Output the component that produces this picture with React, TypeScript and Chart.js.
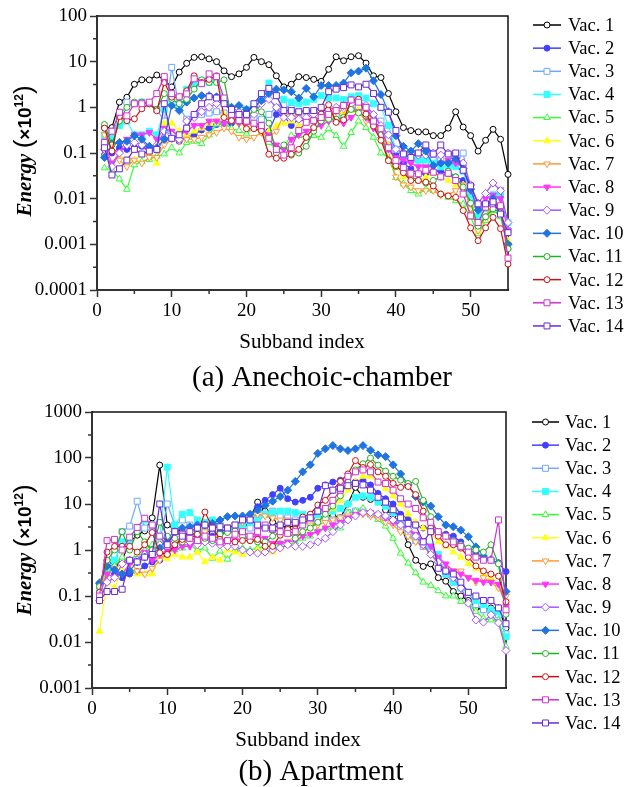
import React, { useEffect, useRef } from 'react';
import { Chart, registerables } from 'chart.js';

Chart.register(...registerables);

// ---------- categories ----------
const subbandIndex = [
  1, 2, 3, 4, 5, 6, 7, 8, 9, 10, 11, 12, 13, 14, 15, 16, 17, 18, 19, 20,
  21, 22, 23, 24, 25, 26, 27, 28, 29, 30, 31, 32, 33, 34, 35, 36, 37, 38, 39, 40,
  41, 42, 43, 44, 45, 46, 47, 48, 49, 50, 51, 52, 53, 54, 55,
];

const vacLabels = ['Vac. 1', 'Vac. 2', 'Vac. 3', 'Vac. 4', 'Vac. 5', 'Vac. 6', 'Vac. 7',
  'Vac. 8', 'Vac. 9', 'Vac. 10', 'Vac. 11', 'Vac. 12', 'Vac. 13', 'Vac. 14'];

// ---------- tick labels ----------
const xTicks = [0, 10, 20, 30, 40, 50];
const xTickLabels = ['0', '10', '20', '30', '40', '50'];
const xMinorTicks = [5, 15, 25, 35, 45];
const yTicksChamber = [0.0001, 0.001, 0.01, 0.1, 1, 10, 100];
const yTickLabelsChamber = ['0.0001', '0.001', '0.01', '0.1', '1', '10', '100'];
const yTicksApartment = [0.001, 0.01, 0.1, 1, 10, 100, 1000];
const yTickLabelsApartment = ['0.001', '0.01', '0.1', '1', '10', '100', '1000'];

// ---------- (a) Anechoic-chamber ----------
const chamberV1 = [0.36,0.36,1.3,1.66,3.2,4.0,4.0,5.1,3.9,2.8,
  5.9,9.2,12.4,12.8,11.5,10,6.3,4.7,5.4,7.5,
  12.4,10,8.6,4.9,2.8,3.2,4.7,4.5,4.1,3.7,
  6.8,12.8,10.5,12.8,13.5,9.3,4.9,4.5,2.0,0.8,
  0.36,0.31,0.29,0.29,0.24,0.24,0.35,0.8,0.37,0.24,
  0.11,0.19,0.33,0.2,0.034];
const chamberV2 = [0.09,0.1,0.13,0.12,0.13,0.14,0.11,0.12,0.2,0.23,
  0.18,0.22,0.25,0.32,0.35,0.42,0.45,0.45,0.5,0.5,
  0.45,0.32,0.3,0.7,0.65,0.4,0.55,0.5,0.55,0.6,
  0.65,0.7,0.8,0.9,1.0,0.8,0.5,0.35,0.2,0.1,
  0.06,0.045,0.035,0.035,0.04,0.04,0.035,0.03,0.025,0.008,
  0.0025,0.004,0.008,0.005,0.001];
const chamberV3 = [0.24,0.3,0.55,1.3,1.2,1.3,1.2,0.9,0.5,7.5,
  1.0,0.55,0.65,0.7,0.75,0.8,0.75,0.55,0.5,0.55,
  0.6,0.55,0.7,1.0,1.1,0.95,0.8,0.8,0.8,0.75,
  0.7,0.7,0.75,0.9,1.0,0.9,0.65,0.5,0.2,0.12,
  0.08,0.07,0.07,0.06,0.07,0.07,0.06,0.06,0.1,0.015,
  0.004,0.007,0.012,0.015,0.002];
const chamberV4 = [0.25,0.22,0.4,0.5,0.25,0.25,0.3,0.25,0.9,1.5,
  1.2,2.5,3.0,3.9,3.5,3.9,1.3,0.8,0.7,0.9,
  1.2,1.7,3.4,1.8,1.5,1.3,1.2,1.3,1.5,1.8,
  1.6,1.6,1.5,1.7,1.8,1.6,1.2,1.0,0.4,0.12,
  0.09,0.08,0.07,0.07,0.06,0.05,0.05,0.05,0.04,0.012,
  0.004,0.006,0.012,0.012,0.003];
const chamberV5 = [0.047,0.042,0.027,0.016,0.055,0.065,0.072,0.085,0.095,0.13,
  0.1,0.17,0.18,0.16,0.25,0.43,0.47,0.34,0.31,0.26,
  0.36,0.28,0.17,0.12,0.14,0.24,0.24,0.22,0.24,0.22,
  0.34,0.24,0.14,0.28,0.5,0.36,0.22,0.1,0.08,0.029,
  0.021,0.015,0.0126,0.016,0.015,0.0126,0.0107,0.009,0.0076,0.0039,
  0.0017,0.0033,0.0055,0.004,0.00085];
const chamberV6 = [0.09,0.06,0.08,0.07,0.07,0.09,0.1,0.06,0.45,0.45,
  0.3,0.25,0.3,0.35,0.45,0.5,0.7,0.55,0.45,0.4,
  0.35,0.3,0.3,0.4,0.45,0.5,0.4,0.45,0.5,0.7,
  0.9,0.8,0.75,0.85,0.9,0.75,0.5,0.3,0.15,0.05,
  0.03,0.025,0.025,0.03,0.035,0.03,0.025,0.02,0.02,0.006,
  0.002,0.004,0.008,0.007,0.0012];
const chamberV7 = [0.25,0.15,0.07,0.05,0.07,0.06,0.08,0.08,0.15,0.2,
  0.18,0.2,0.2,0.22,0.25,0.28,0.35,0.3,0.22,0.2,
  0.22,0.28,0.22,0.3,0.7,0.7,0.6,0.55,0.5,0.45,
  0.55,0.8,0.9,1.0,0.8,0.5,0.45,0.3,0.1,0.03,
  0.02,0.018,0.015,0.015,0.015,0.012,0.012,0.015,0.02,0.006,
  0.002,0.004,0.008,0.006,0.001];
const chamberV8 = [0.15,0.06,0.1,0.2,0.25,0.25,0.28,0.2,0.35,0.3,
  0.25,0.3,0.4,0.4,0.5,0.5,0.45,0.5,0.45,0.45,
  0.4,0.35,0.25,0.15,0.12,0.2,0.25,0.3,0.35,0.4,
  0.5,0.5,0.45,0.6,0.8,0.6,0.35,0.2,0.12,0.08,
  0.07,0.06,0.05,0.05,0.05,0.06,0.07,0.06,0.05,0.015,
  0.006,0.01,0.012,0.01,0.002];
const chamberV9 = [0.12,0.05,0.1,0.15,0.17,0.15,0.12,0.15,0.3,0.25,
  0.2,0.5,0.6,0.8,1.0,1.2,1.3,1.0,0.8,0.6,
  0.7,1.2,1.5,1.0,0.6,0.6,0.55,0.6,0.7,0.8,
  0.9,1.0,1.1,1.2,1.4,1.1,0.7,0.4,0.25,0.12,
  0.1,0.1,0.09,0.09,0.1,0.09,0.1,0.08,0.06,0.02,
  0.008,0.013,0.022,0.015,0.003];
const chamberV10 = [0.08,0.16,0.17,0.18,0.24,0.2,0.14,0.13,0.2,1.1,
  0.85,1.3,1.6,1.8,1.8,1.7,1.3,1.0,1.1,0.9,
  1.0,1.4,2.0,2.5,2.4,2.2,1.6,2.6,1.7,3.0,
  3.0,3.0,3.4,5.7,6.2,7.2,3.8,1.9,0.8,0.24,
  0.14,0.11,0.16,0.11,0.053,0.06,0.06,0.075,0.045,0.016,
  0.0056,0.007,0.01,0.005,0.001];
const chamberV11 = [0.42,0.15,0.5,1.0,1.3,1.3,1.2,0.9,2.0,1.5,
  1.2,1.5,2.5,4.0,3.5,3.5,4.0,0.6,0.5,0.55,
  0.9,0.8,0.45,0.1,0.15,0.09,0.1,0.14,0.3,0.5,
  0.55,0.55,0.6,0.9,0.75,0.65,0.4,0.25,0.07,0.05,
  0.04,0.03,0.025,0.022,0.025,0.03,0.04,0.03,0.018,0.008,
  0.0025,0.004,0.006,0.005,0.0008];
const chamberV12 = [0.35,0.11,0.63,0.51,0.56,0.93,1.2,0.84,3.5,1.67,
  1.67,2.3,4.9,3.5,4.1,4.9,0.6,0.51,0.56,0.34,
  0.34,0.31,0.094,0.077,0.077,0.094,0.12,0.22,0.36,0.71,
  1.14,0.47,0.53,1.45,1.5,0.71,0.39,0.19,0.068,0.053,
  0.037,0.025,0.025,0.023,0.019,0.0126,0.0115,0.0107,0.0055,0.0023,
  0.0012,0.0023,0.0039,0.0022,0.00037];
const chamberV13 = [0.17,0.3,0.78,0.65,1.2,1.2,1.3,2.0,4.7,2.0,
  1.7,1.97,4.2,3.3,5.4,4.7,1.6,0.7,0.51,0.5,
  0.45,0.4,0.21,0.12,0.09,0.13,0.31,0.47,0.51,0.6,
  0.7,0.85,1.1,1.45,1.3,1.0,0.5,0.34,0.13,0.068,
  0.048,0.036,0.035,0.042,0.038,0.03,0.036,0.025,0.0126,0.0042,
  0.003,0.0065,0.0077,0.007,0.0005];
const chamberV14 = [0.13,0.033,0.045,0.07,0.12,0.095,0.11,0.12,1.2,0.21,
  0.25,0.35,0.7,1.2,1.7,1.6,1.2,0.9,0.7,0.7,
  1.2,2.0,2.6,1.8,0.85,0.85,0.8,0.85,0.85,1.0,
  2.2,2.5,2.7,3.1,2.8,3.2,2.0,1.0,0.78,0.31,
  0.095,0.08,0.1,0.15,0.095,0.15,0.095,0.1,0.042,0.019,
  0.0077,0.0077,0.0085,0.0046,0.0018];

// ---------- (b) Apartment ----------
const apartmentV1 = [0.17,0.6,0.45,0.6,1.5,2.1,2.6,5,70,3.5,
  2.8,2.5,2.0,2.5,2.8,2.3,2.2,2.5,2.5,2.4,
  5,11,7,4,3.5,3,3.5,4,4.5,5,
  5.5,5.5,5,10,23,14,12.6,12,7.4,5.8,
  3.5,1.3,0.6,0.44,0.5,0.25,0.21,0.125,0.1,0.08,
  0.055,0.05,0.055,0.055,0.02];
const apartmentV2 = [0.19,0.5,0.3,0.25,0.3,0.34,0.45,0.55,0.6,0.8,
  1.2,1.95,1.5,2.0,2.5,2.0,2.5,2.8,3.0,3.5,
  5,8.7,12,16,22,13,11,12,14,22,
  26,30,33,30,30,33,26,17,13,10,
  6,4.7,3.5,3.0,3,2.5,2.2,2.0,1.5,1.0,
  0.85,0.7,0.6,0.52,0.34];
const apartmentV3 = [0.15,0.5,0.8,2.5,3.3,11.5,3.0,2.5,1.5,10,
  3.5,4.5,3.5,3.0,2.5,3,3.5,3,3,2.8,
  3,4,6,7,5.5,5,4.5,4.5,4,4.5,
  5,4.5,5,6.5,7,7,6,5.5,5,4,
  3,2.2,1.6,1.2,1.0,0.6,0.3,0.2,0.15,0.12,
  0.065,0.05,0.045,0.04,0.015];
const apartmentV4 = [0.12,0.35,0.6,1.5,1.6,3.0,4.5,3.5,2.0,63,
  3.5,6.0,6.5,4.5,4.0,4.5,3.5,3.0,3.5,3.5,
  4.0,5.0,6.0,6.5,7.0,7.0,6.5,6.0,5.5,6.0,
  6.5,7.0,8,10,14,15,14,11,9,6.5,
  4.5,3,2,1.5,1.2,0.8,0.3,0.2,0.15,0.12,
  0.08,0.065,0.05,0.045,0.013];
const apartmentV5 = [0.2,0.3,0.45,0.7,0.6,0.8,1.0,1.3,1.5,1.0,
  1.0,1.1,1.3,1.0,1.1,0.66,0.95,0.63,1.0,1.1,
  1.0,1.1,1.2,1.2,1.4,1.3,1.5,1.8,2.0,2.7,
  3.0,3.0,3.0,6.3,7,8,6.3,4.6,3.3,1.8,
  0.85,0.52,0.32,0.2,0.17,0.13,0.1,0.1,0.076,0.07,
  0.046,0.033,0.03,0.03,0.008];
const apartmentV6 = [0.017,0.2,0.15,0.35,0.4,0.3,0.3,0.3,0.7,0.65,
  0.8,0.7,0.7,0.9,0.55,0.7,0.6,1.0,0.9,0.8,
  0.9,1.0,1.0,0.9,1.1,1.5,2,2.5,3,4,
  6,8,12,20,30,40,40,30,22,15,
  10,6,4,3,2.3,1.5,1.2,0.9,0.7,0.5,
  0.4,0.3,0.25,0.15,0.07];
const apartmentV7 = [0.15,0.3,0.4,0.5,0.6,0.35,0.3,0.4,0.6,1.0,
  1.3,1.5,1.5,2.0,2.5,3,3.5,3.2,3.5,4,
  5,6,5.5,5,4.5,4.5,4,4,3.5,3.5,
  4,4.5,5,5.5,5.5,6,5.5,5,4,3.5,
  2.5,2,1.5,1.2,0.8,0.5,0.4,0.35,0.35,0.25,
  0.2,0.25,0.2,0.15,0.1];
const apartmentV8 = [0.1,0.3,0.25,0.3,0.5,0.6,0.9,0.6,0.8,1.0,
  1.0,1.2,1.2,1.5,1.6,1.5,1.3,1.5,1.6,1.8,
  2.0,1.9,1.8,1.4,1.4,1.5,1.6,2.0,2.2,2.5,
  3,3.5,4,5,6,6.5,6.5,6,5,4,
  3.5,3,2.2,1.6,1.2,0.7,0.5,0.35,0.3,0.25,
  0.22,0.2,0.2,0.18,0.06];
const apartmentV9 = [0.08,0.2,0.25,0.5,0.6,0.6,0.8,1.0,1.3,1.5,
  1.6,1.7,1.5,1.3,1.5,1.4,1.3,1.2,1.2,1.0,
  0.9,0.85,0.9,1.0,1.1,1.3,1.2,1.2,1.3,1.5,
  1.8,2.5,3.5,4.5,5.5,6.5,6.5,6,5.5,4.5,
  3.5,2.8,2,1.3,0.8,0.55,0.35,0.25,0.15,0.07,
  0.03,0.027,0.039,0.026,0.0065];
const apartmentV10 = [0.19,0.45,0.37,0.3,0.35,0.55,0.7,0.8,1.1,1.8,
  2.5,3,3.2,3.5,3.5,3.8,4.5,5.3,5.5,5.5,
  6,7.4,9.3,11.5,14.5,20,31,50,71,126,
  158,186,158,145,158,186,148,117,107,71,
  45,26,14.5,11,9,5.3,3.5,3.2,2.7,1.95,
  1.17,0.74,0.62,0.52,0.126];
const apartmentV11 = [0.16,0.6,1.0,2.5,1.0,2.5,1.5,1.0,4.0,2.0,
  1.8,1.5,2.0,2.5,1.8,1.6,2.2,2.4,2.6,2.0,
  1.6,1.5,1.5,2.0,2.5,2.4,1.8,2.5,3,4,
  6,9,15,30,55,75,100,70,52,40,
  33,28,31,12,5.3,2.1,2.0,1.6,1.3,1.1,
  1.0,0.9,1.3,0.5,0.04];
const apartmentV12 = [0.12,0.9,1.2,1.2,1.2,0.9,1.3,2.4,0.87,0.8,
  1.3,1.7,1.8,2.2,6.7,3.1,1.7,1.6,1.5,1.6,
  1.6,1.7,1.2,1.2,2.1,2.8,2.8,5.2,6,9.5,
  12,20,31,45,88,62,72,50,40,28,
  23,24,16,7,3,2,1.3,1.3,1.1,0.7,
  0.45,0.35,0.3,0.27,0.075];
const apartmentV13 = [0.1,1.6,1.7,1.0,1.9,3.1,4.9,3.5,2.0,1.2,
  2.5,2.2,1.8,1.6,2.0,1.8,1.5,1.6,2.2,2.5,
  2.0,2.5,3.5,2.8,2.5,2.3,2.5,3.5,5,7,
  8,12,20,40,50,55,50,30,28,20,
  13,10,8,5,4,2.5,2.0,1.5,1.2,0.9,
  0.7,0.6,0.6,4.5,0.05];
const apartmentV14 = [0.08,0.125,0.125,0.14,0.6,0.55,0.7,0.8,10,1.3,
  2.5,2.0,2.5,3.0,3.5,3,3.2,3.0,3.5,4.5,
  4.5,3.5,3,3,3.5,4,4,4.5,5,7,
  25,20,22,25,28,26,20,14,11,7.5,
  5,3.8,3.5,1.5,2.5,0.4,0.35,0.3,0.2,0.12,
  0.1,0.08,0.08,0.055,0.025];

const chamberSeries = [chamberV1, chamberV2, chamberV3, chamberV4, chamberV5, chamberV6, chamberV7,
  chamberV8, chamberV9, chamberV10, chamberV11, chamberV12, chamberV13, chamberV14];
const apartmentSeries = [apartmentV1, apartmentV2, apartmentV3, apartmentV4, apartmentV5, apartmentV6,
  apartmentV7, apartmentV8, apartmentV9, apartmentV10, apartmentV11, apartmentV12, apartmentV13, apartmentV14];

// ---------- styles ----------
const vacColors = ['#000000', '#4040ff', '#6fa8ff', '#33ffff', '#33ff33', '#ffff1a', '#ff9933',
  '#ff33ff', '#a855ff', '#1f74e0', '#1fb31f', '#cc1111', '#cc33cc', '#6a2bd0'];
const vacMarkers = ['circle', 'circle', 'rect', 'rect', 'triangle', 'triangle', 'triangleDown',
  'triangleDown', 'rectRot', 'rectRot', 'circle', 'circle', 'rect', 'rect'];
const vacFilled = [false, true, false, true, false, true, false, true, false, true, false, false, false, false];
const markerRadius: Record<string, number> = { circle: 3, rect: 4.2, triangle: 3.8, triangleDown: 3.8, rectRot: 4 };

const SERIF = '"Liberation Serif", "Times New Roman", serif';
const SANS = '"Liberation Sans", Arial, sans-serif';
const W = 626;

type Spec = {
  series: number[][];
  height: number;
  area: { left: number; right: number; top: number; bottom: number };
  yMin: number; yMax: number; yTicks: number[]; yTickLabels: string[];
  legendTop: number; legendStep: number; legendX0: number; legendX1: number; legendTextX: number;
  xTitleX: number; xTitleY: number; caption: string; captionX: number; captionY: number;
  yTitleX: number; yTitleY: number;
};

const chamberSpec: Spec = {
  series: chamberSeries, height: 395,
  area: { left: 97, right: 508, top: 16, bottom: 290 },
  yMin: 0.0001, yMax: 100, yTicks: yTicksChamber, yTickLabels: yTickLabelsChamber,
  legendTop: 25, legendStep: 23.15, legendX0: 533, legendX1: 561, legendTextX: 568,
  xTitleX: 302, xTitleY: 342, caption: '(a) Anechoic-chamber', captionX: 322, captionY: 378,
  yTitleX: 24, yTitleY: 151,
};
const apartmentSpec: Spec = {
  series: apartmentSeries, height: 392,
  area: { left: 92, right: 506, top: 17, bottom: 293 },
  yMin: 0.001, yMax: 1000, yTicks: yTicksApartment, yTickLabels: yTickLabelsApartment,
  legendTop: 27, legendStep: 23.15, legendX0: 532, legendX1: 559, legendTextX: 565,
  xTitleX: 298, xTitleY: 345, caption: '(b) Apartment', captionX: 321, captionY: 377,
  yTitleX: 24, yTitleY: 155,
};

function drawMarker(ctx: CanvasRenderingContext2D, style: string, x: number, y: number, color: string, filled: boolean) {
  const r = markerRadius[style];
  ctx.save();
  ctx.beginPath();
  if (style === 'circle') {
    ctx.arc(x, y, r, 0, Math.PI * 2);
  } else if (style === 'rect') {
    const s = r * Math.SQRT1_2;
    ctx.rect(x - s, y - s, 2 * s, 2 * s);
  } else if (style === 'triangle' || style === 'triangleDown') {
    const d = style === 'triangle' ? 1 : -1;
    ctx.moveTo(x, y - d * r);
    ctx.lineTo(x + r * 0.866, y + d * r * 0.5);
    ctx.lineTo(x - r * 0.866, y + d * r * 0.5);
    ctx.closePath();
  } else {
    ctx.moveTo(x, y - r);
    ctx.lineTo(x + r, y);
    ctx.lineTo(x, y + r);
    ctx.lineTo(x - r, y);
    ctx.closePath();
  }
  ctx.fillStyle = filled ? color : '#ffffff';
  ctx.fill();
  ctx.strokeStyle = color;
  ctx.lineWidth = 1;
  ctx.stroke();
  ctx.restore();
}

const decorPlugin = {
  id: 'decor',
  beforeDatasetsDraw(chart: any, _args: any, spec: Spec) {
    const ctx = chart.ctx as CanvasRenderingContext2D;
    const a = chart.chartArea;
    const xs = chart.scales.x;
    const ys = chart.scales.y;
    ctx.save();
    ctx.strokeStyle = '#111';
    ctx.lineWidth = 1.5;
    ctx.beginPath();
    ctx.moveTo(a.left, a.top);
    ctx.lineTo(a.right, a.top);
    ctx.lineTo(a.right, a.bottom);
    ctx.stroke();
    // minor ticks
    ctx.strokeStyle = '#333';
    ctx.lineWidth = 1.5;
    ctx.beginPath();
    for (const v of xMinorTicks) {
      const px = xs.getPixelForValue(v);
      ctx.moveTo(px, a.bottom);
      ctx.lineTo(px, a.bottom + 4);
    }
    for (let k = 0; k < spec.yTicks.length - 1; k++) {
      const v = spec.yTicks[k] * Math.sqrt(10);
      const py = ys.getPixelForValue(v);
      ctx.moveTo(a.left, py);
      ctx.lineTo(a.left - 4, py);
    }
    ctx.stroke();
    ctx.restore();
  },
  afterDraw(chart: any, _args: any, spec: Spec) {
    const ctx = chart.ctx as CanvasRenderingContext2D;
    ctx.save();
    // legend
    chart.data.datasets.forEach((ds: any, i: number) => {
      const y = spec.legendTop + i * spec.legendStep;
      ctx.strokeStyle = vacColors[i];
      ctx.lineWidth = 1.5;
      ctx.beginPath();
      ctx.moveTo(spec.legendX0, y);
      ctx.lineTo(spec.legendX1, y);
      ctx.stroke();
      drawMarker(ctx, vacMarkers[i], (spec.legendX0 + spec.legendX1) / 2, y, vacColors[i], vacFilled[i]);
      ctx.fillStyle = '#000';
      ctx.font = `18.5px ${SERIF}`;
      ctx.textAlign = 'left';
      ctx.textBaseline = 'middle';
      ctx.fillText(ds.label, spec.legendTextX, y + 1);
    });
    // x title
    ctx.fillStyle = '#000';
    ctx.textAlign = 'center';
    ctx.textBaseline = 'middle';
    ctx.font = `21px ${SERIF}`;
    ctx.fillText('Subband index', spec.xTitleX, spec.xTitleY);
    // caption
    ctx.font = `29px ${SERIF}`;
    ctx.fillText(spec.caption, spec.captionX, spec.captionY);
    // y title
    const parts = [
      { t: 'Energy', f: `italic bold 21px ${SERIF}`, dy: 0 },
      { t: ' ', f: `bold 19px ${SANS}`, dy: 0 },
      { t: '(', f: `26px ${SANS}`, dy: 1 },
      { t: '×10', f: `bold 19px ${SANS}`, dy: 0 },
      { t: '12', f: `bold 12px ${SANS}`, dy: -8 },
      { t: ')', f: `26px ${SANS}`, dy: 1 },
    ];
    let total = 0;
    const widths = parts.map((p) => { ctx.font = p.f; const w = ctx.measureText(p.t).width; total += w; return w; });
    ctx.translate(spec.yTitleX, spec.yTitleY);
    ctx.rotate(-Math.PI / 2);
    ctx.textAlign = 'left';
    ctx.textBaseline = 'alphabetic';
    let x = -total / 2;
    parts.forEach((p, i) => {
      ctx.font = p.f;
      ctx.fillText(p.t, x, 7 + p.dy);
      x += widths[i];
    });
    ctx.restore();
  },
};

function Panel({ spec }: { spec: Spec }) {
  const ref = useRef<HTMLCanvasElement | null>(null);
  useEffect(() => {
    if (!ref.current) return;
    const datasets = spec.series.map((vals, i) => {
      const m = vacMarkers[i];
      return {
        label: vacLabels[i],
        data: vals.map((v, j) => ({ x: subbandIndex[j], y: v })),
        borderColor: vacColors[i],
        backgroundColor: vacColors[i],
        borderWidth: 1.2,
        pointStyle: m === 'triangleDown' ? 'triangle' : m,
        rotation: m === 'triangleDown' ? 180 : 0,
        pointRotation: m === 'triangleDown' ? 180 : 0,
        pointRadius: markerRadius[m],
        pointBackgroundColor: vacFilled[i] ? vacColors[i] : '#ffffff',
        pointBorderColor: vacColors[i],
        pointBorderWidth: 1,
        tension: 0,
        clip: false,
        order: 14 - i,
      };
    });
    const gridOpts = {
      display: true,
      drawOnChartArea: false,
      drawTicks: true,
      tickLength: 7,
      tickWidth: 1.5,
      tickColor: '#333',
      color: '#333',
    };
    const chart = new Chart(ref.current, {
      type: 'line',
      data: { datasets },
      plugins: [decorPlugin],
      options: {
        responsive: false,
        animation: false,
        events: [],
        layout: { padding: { left: 0, top: spec.area.top, right: W - spec.area.right, bottom: 0 } },
        scales: {
          x: {
            type: 'linear',
            min: 0,
            max: 55,
            afterBuildTicks: (s: any) => { s.ticks = xTicks.map((v) => ({ value: v })); },
            afterFit: (s: any) => { s.height = spec.height - spec.area.bottom; },
            ticks: {
              autoSkip: false,
              maxRotation: 0,
              padding: 3,
              color: '#000',
              font: { family: SERIF, size: 19 },
              callback: (_v: any, i: number) => xTickLabels[i],
            },
            grid: gridOpts,
            border: { display: true, color: '#333', width: 2 },
          },
          y: {
            type: 'logarithmic',
            min: spec.yMin,
            max: spec.yMax,
            afterBuildTicks: (s: any) => { s.ticks = spec.yTicks.map((v) => ({ value: v })); },
            afterFit: (s: any) => { s.width = spec.area.left; },
            ticks: {
              autoSkip: false,
              padding: 3,
              color: '#000',
              font: { family: SERIF, size: 19 },
              callback: (_v: any, i: number) => spec.yTickLabels[i],
            },
            grid: gridOpts,
            border: { display: true, color: '#333', width: 2 },
          },
        },
        plugins: {
          legend: { display: false },
          tooltip: { enabled: false },
          decor: spec,
        } as any,
      } as any,
    });
    return () => chart.destroy();
  }, [spec]);
  return <canvas ref={ref} width={W} height={spec.height} style={{ display: 'block', width: W, height: spec.height }} />;
}

export default function App() {
  return (
    <div style={{ position: 'absolute', left: 0, top: 0, width: W, height: 787, background: '#fff' }}>
      <Panel spec={chamberSpec} />
      <Panel spec={apartmentSpec} />
    </div>
  );
}
